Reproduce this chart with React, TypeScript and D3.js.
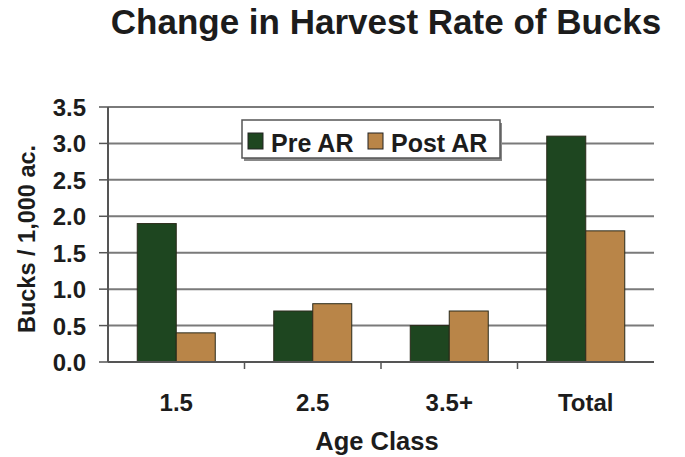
import React from "react";
import * as d3 from "d3";

const categories = ["1.5", "2.5", "3.5+", "Total"];
const preAR = [1.9, 0.7, 0.5, 3.1];
const postAR = [0.4, 0.8, 0.7, 1.8];
const seriesNames = ["Pre AR", "Post AR"];
const yTicks = [0, 0.5, 1.0, 1.5, 2.0, 2.5, 3.0, 3.5];

const W = 685, H = 457;
const left = 108, right = 654, top = 107, bottom = 362;
const colors = ["#1e4620", "#b98548"];
const font = "'Liberation Sans', Arial, sans-serif";
const ink = "#1c1c1c";

export default function App() {
  const x = d3.scaleBand().domain(categories).range([left, right]).paddingInner(0).paddingOuter(0);
  const inner = d3.scaleBand().domain(seriesNames).range([0, x.bandwidth()]).paddingInner(0).paddingOuter(0.75);
  const y = d3.scaleLinear().domain([0, 3.5]).range([bottom, top]);
  const data = [preAR, postAR];
  return (
    <svg width={W} height={H} style={{ position: "absolute", left: 0, top: 0, background: "#fff" }} fontFamily={font}>
      <rect x={0} y={0} width={W} height={H} fill="#fff" />
      <text x={386} y={34} textAnchor="middle" fontSize={35} fontWeight="bold" fill={ink}>Change in Harvest Rate of Bucks</text>
      {yTicks.map((t) => (
        <g key={t}>
          {t > 0 && <line x1={left} x2={right} y1={y(t)} y2={y(t)} stroke="#7a7a7a" strokeWidth={2} />}
          <line x1={left - 9} x2={left} y1={y(t)} y2={y(t)} stroke="#555" strokeWidth={1.5} />
          <text x={86} y={y(t) + 9} textAnchor="end" fontSize={24} fontWeight="bold" fill={ink}>{t.toFixed(1)}</text>
        </g>
      ))}
      {categories.map((c, i) =>
        data.map((s, j) => (
          <rect key={c + j} x={x(c)! + inner(seriesNames[j])!} y={y(s[i])} width={inner.bandwidth()} height={bottom - y(s[i])}
            fill={colors[j]} stroke="#2a2a1a" strokeWidth={1} />
        ))
      )}
      <line x1={left} x2={left} y1={top} y2={bottom} stroke="#555" strokeWidth={2} />
      <line x1={left} x2={right} y1={bottom} y2={bottom} stroke="#555" strokeWidth={2} />
      {categories.slice(1).map((c) => (
        <line key={c} x1={x(c)!} x2={x(c)!} y1={bottom} y2={bottom + 7} stroke="#555" strokeWidth={1.5} />
      ))}
      {categories.map((c) => (
        <text key={c} x={x(c)! + x.bandwidth() / 2} y={411} textAnchor="middle" fontSize={24} fontWeight="bold" fill={ink}>{c}</text>
      ))}
      <text x={377} y={450} textAnchor="middle" fontSize={25.5} fontWeight="bold" fill={ink}>Age Class</text>
      <text transform={`translate(35,239) rotate(-90)`} textAnchor="middle" fontSize={23.5} fontWeight="bold" fill={ink}>Bucks / 1,000 ac.</text>
      <g>
        <rect x={244} y={123} width={258} height={38} fill="#888" />
        <rect x={242} y={120} width={258} height={38} fill="#fff" stroke="#555" strokeWidth={1.5} />
        <rect x={248} y={133} width={15} height={16} fill={colors[0]} stroke="#222" strokeWidth={1} />
        <text x={271} y={152} fontSize={25} fontWeight="bold" fill={ink}>{seriesNames[0]}</text>
        <rect x={368} y={133} width={15} height={16} fill={colors[1]} stroke="#222" strokeWidth={1} />
        <text x={391} y={152} fontSize={25} fontWeight="bold" fill={ink}>{seriesNames[1]}</text>
      </g>
    </svg>
  );
}
